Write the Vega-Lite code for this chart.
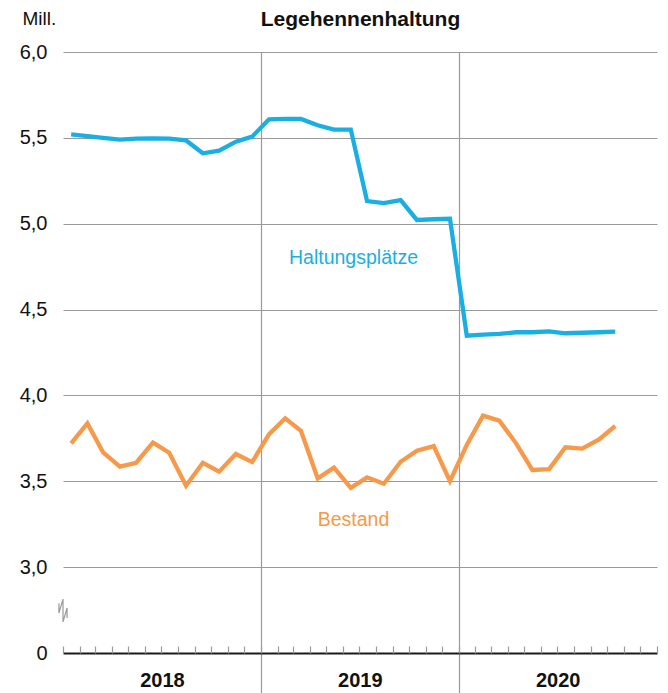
{
  "$schema": "https://vega.github.io/schema/vega-lite/v6.json",
  "width": 594,
  "height": 601,
  "autosize": {"type": "none"},
  "padding": {"left": 63, "top": 52, "right": 11, "bottom": 40},
  "config": {
    "font": "Liberation Sans",
    "view": {"stroke": null},
    "axis": {"labelFont": "Liberation Sans", "titleFont": "Liberation Sans"}
  },
  "datasets": {
    "main": [
      {"date": "2018-01-16", "series": "Haltungsplätze", "value": 5.52},
      {"date": "2018-02-15", "series": "Haltungsplätze", "value": 5.51},
      {"date": "2018-03-16", "series": "Haltungsplätze", "value": 5.50},
      {"date": "2018-04-16", "series": "Haltungsplätze", "value": 5.49},
      {"date": "2018-05-16", "series": "Haltungsplätze", "value": 5.495},
      {"date": "2018-06-16", "series": "Haltungsplätze", "value": 5.497},
      {"date": "2018-07-16", "series": "Haltungsplätze", "value": 5.495},
      {"date": "2018-08-16", "series": "Haltungsplätze", "value": 5.485},
      {"date": "2018-09-16", "series": "Haltungsplätze", "value": 5.41},
      {"date": "2018-10-16", "series": "Haltungsplätze", "value": 5.425},
      {"date": "2018-11-16", "series": "Haltungsplätze", "value": 5.478},
      {"date": "2018-12-16", "series": "Haltungsplätze", "value": 5.507},
      {"date": "2019-01-16", "series": "Haltungsplätze", "value": 5.608},
      {"date": "2019-02-15", "series": "Haltungsplätze", "value": 5.61},
      {"date": "2019-03-16", "series": "Haltungsplätze", "value": 5.61},
      {"date": "2019-04-16", "series": "Haltungsplätze", "value": 5.573},
      {"date": "2019-05-16", "series": "Haltungsplätze", "value": 5.548},
      {"date": "2019-06-16", "series": "Haltungsplätze", "value": 5.548},
      {"date": "2019-07-16", "series": "Haltungsplätze", "value": 5.132},
      {"date": "2019-08-16", "series": "Haltungsplätze", "value": 5.12},
      {"date": "2019-09-16", "series": "Haltungsplätze", "value": 5.138},
      {"date": "2019-10-16", "series": "Haltungsplätze", "value": 5.022},
      {"date": "2019-11-16", "series": "Haltungsplätze", "value": 5.026},
      {"date": "2019-12-16", "series": "Haltungsplätze", "value": 5.029},
      {"date": "2020-01-16", "series": "Haltungsplätze", "value": 4.348},
      {"date": "2020-02-15", "series": "Haltungsplätze", "value": 4.354},
      {"date": "2020-03-16", "series": "Haltungsplätze", "value": 4.358},
      {"date": "2020-04-16", "series": "Haltungsplätze", "value": 4.368},
      {"date": "2020-05-16", "series": "Haltungsplätze", "value": 4.368},
      {"date": "2020-06-16", "series": "Haltungsplätze", "value": 4.373},
      {"date": "2020-07-16", "series": "Haltungsplätze", "value": 4.362},
      {"date": "2020-08-16", "series": "Haltungsplätze", "value": 4.365},
      {"date": "2020-09-16", "series": "Haltungsplätze", "value": 4.368},
      {"date": "2020-10-16", "series": "Haltungsplätze", "value": 4.371},
      {"date": "2018-01-16", "series": "Bestand", "value": 3.721},
      {"date": "2018-02-15", "series": "Bestand", "value": 3.837},
      {"date": "2018-03-16", "series": "Bestand", "value": 3.669},
      {"date": "2018-04-16", "series": "Bestand", "value": 3.585},
      {"date": "2018-05-16", "series": "Bestand", "value": 3.608},
      {"date": "2018-06-16", "series": "Bestand", "value": 3.725},
      {"date": "2018-07-16", "series": "Bestand", "value": 3.666},
      {"date": "2018-08-16", "series": "Bestand", "value": 3.474},
      {"date": "2018-09-16", "series": "Bestand", "value": 3.608},
      {"date": "2018-10-16", "series": "Bestand", "value": 3.556},
      {"date": "2018-11-16", "series": "Bestand", "value": 3.659},
      {"date": "2018-12-16", "series": "Bestand", "value": 3.612},
      {"date": "2019-01-16", "series": "Bestand", "value": 3.773},
      {"date": "2019-02-15", "series": "Bestand", "value": 3.867},
      {"date": "2019-03-16", "series": "Bestand", "value": 3.794},
      {"date": "2019-04-16", "series": "Bestand", "value": 3.517},
      {"date": "2019-05-16", "series": "Bestand", "value": 3.579},
      {"date": "2019-06-16", "series": "Bestand", "value": 3.462},
      {"date": "2019-07-16", "series": "Bestand", "value": 3.523},
      {"date": "2019-08-16", "series": "Bestand", "value": 3.486},
      {"date": "2019-09-16", "series": "Bestand", "value": 3.614},
      {"date": "2019-10-16", "series": "Bestand", "value": 3.678},
      {"date": "2019-11-16", "series": "Bestand", "value": 3.705},
      {"date": "2019-12-16", "series": "Bestand", "value": 3.501},
      {"date": "2020-01-16", "series": "Bestand", "value": 3.711},
      {"date": "2020-02-15", "series": "Bestand", "value": 3.882},
      {"date": "2020-03-16", "series": "Bestand", "value": 3.853},
      {"date": "2020-04-16", "series": "Bestand", "value": 3.721},
      {"date": "2020-05-16", "series": "Bestand", "value": 3.566},
      {"date": "2020-06-16", "series": "Bestand", "value": 3.571},
      {"date": "2020-07-16", "series": "Bestand", "value": 3.698},
      {"date": "2020-08-16", "series": "Bestand", "value": 3.69},
      {"date": "2020-09-16", "series": "Bestand", "value": 3.744},
      {"date": "2020-10-16", "series": "Bestand", "value": 3.822}
    ],
    "labels": [
      {"date": "2019-06-21", "value": 4.80, "series": "Haltungsplätze", "label": "Haltungsplätze"},
      {"date": "2019-06-21", "value": 3.274, "series": "Bestand", "label": "Bestand"}
    ],
    "brk": [
      {"date": "2018-01-01T00:00:00Z", "value": 2.814},
      {"date": "2017-12-24T12:00:00Z", "value": 2.790},
      {"date": "2018-01-08T12:00:00Z", "value": 2.762},
      {"date": "2017-12-24T12:00:00Z", "value": 2.733},
      {"date": "2018-01-08T12:00:00Z", "value": 2.704},
      {"date": "2018-01-01T00:00:00Z", "value": 2.681}
    ]
  },
  "layer": [
    {
      "data": {"name": "main"},
      "mark": {"type": "line", "strokeWidth": 4.3, "strokeJoin": "miter", "strokeCap": "butt"},
      "encoding": {
        "x": {
          "field": "date",
          "type": "temporal",
          "scale": {
            "type": "utc",
            "domain": [
              {"year": 2018, "month": 1, "date": 1, "utc": true},
              {"year": 2021, "month": 1, "date": 1, "utc": true}
            ]
          },
          "axis": {
            "orient": "bottom",
            "title": null,
            "values": [
              {"year": 2018, "month": 1, "date": 1, "utc": true},
              {"year": 2019, "month": 1, "date": 1, "utc": true},
              {"year": 2020, "month": 1, "date": 1, "utc": true}
            ],
            "labelExpr": "'' + utcyear(datum.value)",
            "labelOffset": 99,
            "labelAlign": "center",
            "labelFlush": false,
            "labelBaseline": "middle",
            "labelPadding": -13,
            "labelFontSize": 20,
            "labelFontWeight": "bold",
            "labelColor": "#111111",
            "tickSize": 40,
            "tickColor": "#9a9a9a",
            "tickWidth": 1.2,
            "tickOpacity": {"condition": {"test": "utcyear(datum.value) == 2018", "value": 0}, "value": 1},
            "grid": true,
            "gridColor": "#9a9a9a",
            "gridWidth": 1.2,
            "gridOpacity": {"condition": {"test": "utcyear(datum.value) == 2018", "value": 0}, "value": 1},
            "domain": true,
            "domainColor": "#1a1a1a",
            "domainWidth": 2.2,
            "zindex": 0
          }
        },
        "y": {
          "field": "value",
          "type": "quantitative",
          "scale": {"domain": [2.5, 6.0], "zero": false, "nice": false},
          "axis": {
            "title": "Mill.",
            "titleAngle": 0,
            "titleAlign": "left",
            "titleBaseline": "middle",
            "titleX": -41,
            "titleY": -34,
            "titleFontSize": 19,
            "titleFontWeight": "normal",
            "titleColor": "#111111",
            "values": [2.5, 3.0, 3.5, 4.0, 4.5, 5.0, 5.5, 6.0],
            "labelExpr": "datum.value == 2.5 ? '0' : replace(format(datum.value, '.1f'), '.', ',')",
            "labelFontSize": 20,
            "labelColor": "#111111",
            "labelPadding": 16,
            "ticks": false,
            "domain": false,
            "grid": true,
            "gridColor": "#9a9a9a",
            "gridWidth": 1.2,
            "gridOpacity": {"condition": {"test": "datum.value == 2.5", "value": 0}, "value": 1}
          }
        },
        "color": {
          "field": "series",
          "type": "nominal",
          "scale": {"domain": ["Haltungsplätze", "Bestand"], "range": ["#1aafe2", "#f7994a"]},
          "legend": null
        }
      }
    },
    {
      "data": {"name": "labels"},
      "mark": {"type": "text", "fontSize": 19.5, "align": "center", "baseline": "middle"},
      "encoding": {
        "x": {
          "field": "date",
          "type": "temporal",
          "axis": {
            "orient": "bottom",
            "title": null,
            "labels": false,
            "grid": false,
            "domain": false,
            "tickCount": {"interval": "month", "step": 1},
            "tickSize": -7,
            "tickColor": "#9a9a9a",
            "tickWidth": 1.2
          }
        },
        "y": {"field": "value", "type": "quantitative"},
        "text": {"field": "label"},
        "color": {"field": "series", "type": "nominal", "legend": null}
      }
    },
    {
      "mark": {"type": "rule", "color": "#9a9a9a", "strokeWidth": 1.2},
      "encoding": {
        "x": {
          "datum": {"year": 2018, "month": 1, "date": 1, "utc": true},
          "type": "temporal",
          "axis": {
            "orient": "top",
            "title": "Legehennenhaltung",
            "titleFontSize": 21,
            "titleFontWeight": "bold",
            "titleColor": "#111111",
            "titleBaseline": "alphabetic",
            "titleAnchor": "middle",
            "titleY": -27,
            "labels": false,
            "ticks": false,
            "domain": false,
            "grid": false
          }
        },
        "y": {"datum": 2.814, "type": "quantitative"},
        "y2": {"datum": 6.0}
      }
    },
    {
      "mark": {"type": "rule", "color": "#9a9a9a", "strokeWidth": 1.2},
      "encoding": {
        "x": {"datum": {"year": 2018, "month": 1, "date": 1, "utc": true}, "type": "temporal", "axis": null},
        "y": {"datum": 2.5, "type": "quantitative"},
        "y2": {"datum": 2.681}
      }
    },
    {
      "data": {"name": "brk"},
      "mark": {"type": "line", "color": "#9a9a9a", "strokeWidth": 1.2, "strokeJoin": "miter"},
      "encoding": {
        "x": {"field": "date", "type": "temporal", "axis": null},
        "y": {"field": "value", "type": "quantitative"},
        "order": {"value": 0}
      }
    }
  ],
  "resolve": {"axis": {"x": "independent"}}
}
